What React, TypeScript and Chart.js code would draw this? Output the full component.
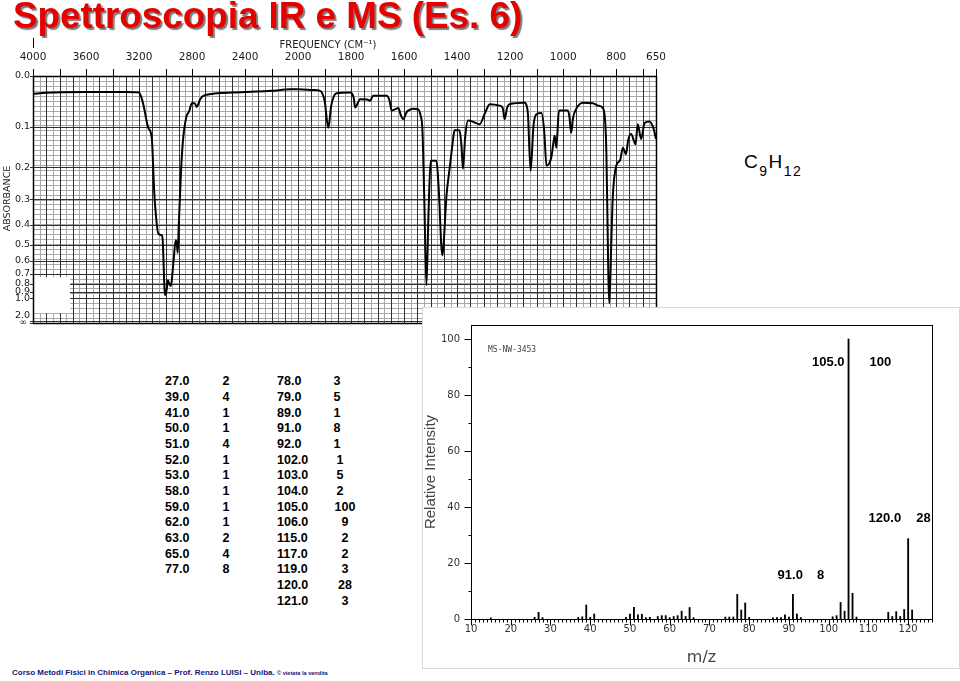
import React, { useEffect, useRef } from 'react';
import { Chart, registerables, LinearScale } from 'chart.js';

// ---------------- IR spectrum data ----------------
const IR_START = 4000;
const IR_SPLIT = 2000;
const IR_END = 650;
const IR_X_TICK_LABELS = [4000, 3600, 3200, 2800, 2400, 2000, 1800, 1600, 1400, 1200, 1000, 800, 650];
const IR_ABSORBANCE_LABELS = ['0.0', '0.1', '0.2', '0.3', '0.4', '0.5', '0.6', '0.7', '0.8', '0.9', '1.0', '2.0', '∞'];
const IR_ABSORBANCE_VALUES = [0, 0.1, 0.2, 0.3, 0.4, 0.5, 0.6, 0.7, 0.8, 0.9, 1.0, 2.0, Infinity];

const IR_WAVENUMBERS = [
  4000, 3900, 3600, 3300, 3200, 3170, 3130, 3104, 3086, 3070,
  3054, 3028, 3021, 3008, 3003, 2990, 2983, 2972, 2960, 2940,
  2923, 2915, 2908, 2900, 2883, 2870, 2845, 2820, 2802, 2780,
  2765, 2757, 2740, 2701, 2490, 2200, 2060, 2000, 1940, 1917,
  1900, 1886, 1875, 1855, 1804, 1790, 1785, 1766, 1740, 1728,
  1717, 1666, 1655, 1647, 1635, 1622, 1612, 1604, 1590, 1585,
  1565, 1547, 1538, 1531, 1524, 1516, 1508, 1500, 1478, 1470,
  1456, 1440, 1428, 1418, 1410, 1391, 1384, 1378, 1370, 1359,
  1340, 1315, 1295, 1277, 1240, 1228, 1221, 1212, 1202, 1145,
  1138, 1133, 1123, 1112, 1101, 1082, 1072, 1063, 1045, 1037,
  1032, 1026, 1016, 982, 976, 970, 963, 951, 926, 888,
  869, 850, 842, 838, 826, 818, 813, 800, 785, 775,
  763, 755, 744, 727, 719, 706, 693, 675, 660, 650,
];
const IR_TRANSMITTANCE = [
  92.7, 93.2, 93.5, 93.5, 93.3, 89, 79, 75, 53.6, 42,
  36, 35.5, 33, 14, 11.3, 14, 17.3, 16, 15, 25,
  33.5, 32, 28.4, 40, 61.7, 73, 83, 86, 89, 89,
  87.5, 88, 90.5, 92.3, 93.3, 94, 94.6, 94.6, 94.3, 94,
  90, 79, 88, 93, 93.3, 91, 87.2, 90.6, 90.5, 90,
  92, 92, 90, 86, 86.5, 87, 84, 82.5, 85.5, 86,
  86.7, 86.5, 84, 78, 50, 15.3, 45, 65.7, 65.7, 55,
  27.4, 52, 63, 72, 78, 78, 72, 62.4, 75, 82,
  81.5, 80.5, 85, 88.6, 88, 87, 82.5, 87, 88.6, 89.2,
  88, 84.5, 61.7, 80, 84.5, 85, 78, 63.7, 67, 73,
  75.8, 71, 86, 86, 83, 77, 83, 86.7, 89.2, 89,
  88, 87, 82, 72.4, 8, 35, 51, 63.7, 66, 71,
  68.4, 74, 76.5, 72.4, 80.5, 74.5, 81, 81.6, 79, 74.5,
];

// ---------------- MS spectrum data ----------------
const MS_MZ = [
  15, 26, 27, 28, 37, 38, 39, 40, 41, 49,
  50, 51, 52, 53, 54, 55, 57, 58, 59, 60,
  61, 62, 63, 64, 65, 66, 74, 75, 76, 77,
  78, 79, 80, 86, 87, 88, 89, 90, 91, 92,
  93, 101, 102, 103, 104, 105, 106, 107, 115, 116,
  117, 118, 119, 120, 121,
];
const MS_INTENSITY = [
  0.4, 0.6, 2.4, 0.5, 0.6, 0.8, 5, 0.6, 1.8, 0.6,
  1.8, 4.2, 1.5, 1.7, 0.5, 0.6, 0.9, 1.2, 1.2, 0.5,
  0.9, 1.2, 2.8, 0.9, 4.1, 0.5, 0.7, 0.7, 0.7, 8.8,
  3.2, 5.7, 0.6, 0.4, 0.5, 0.5, 1.5, 0.7, 8.8, 1.8,
  0.5, 0.8, 1.2, 5.9, 2.8, 100, 9.2, 0.7, 2.4, 0.9,
  2.6, 0.9, 3.4, 28.7, 3.2,
];
const MS_NOTE_MZ = [105, 120, 91];
const MS_NOTE_MZ_TEXT = ['105.0', '120.0', '91.0'];
const MS_NOTE_VALUE_TEXT = ['100', '28', '8'];
// label placement (layout only)
const MS_NOTE_LEVEL = [91.7, 36, 15.6];
const MS_NOTE_DX_LABEL = [-4, -7, 10];
const MS_NOTE_DX_VALUE = [21, 8, 24];

const TABLE_LEFT_MZ = ['27.0', '39.0', '41.0', '50.0', '51.0', '52.0', '53.0', '58.0', '59.0', '62.0', '63.0', '65.0', '77.0'];
const TABLE_LEFT_INT = ['2', '4', '1', '1', '4', '1', '1', '1', '1', '1', '2', '4', '8'];
const TABLE_RIGHT_MZ = ['78.0', '79.0', '89.0', '91.0', '92.0', '102.0', '103.0', '104.0', '105.0', '106.0', '115.0', '117.0', '119.0', '120.0', '121.0'];
const TABLE_RIGHT_INT = ['3', '5', '1', '8', '1', '1', '5', '2', '100', '9', '2', '2', '3', '28', '3'];

// ---------------- custom IR wavenumber scale (compressed above 2000 cm-1) ----------------
const U_MAX = (IR_START - IR_SPLIT) / 400 + (IR_SPLIT - IR_END) / 200;
class WavenumberScale extends LinearScale {
  static id = 'wavenumber';
  getPixelForValue(value: number) {
    const u = value >= IR_SPLIT ? (IR_START - value) / 400 : (IR_START - IR_SPLIT) / 400 + (IR_SPLIT - value) / 200;
    return this.left + (u / U_MAX) * this.width;
  }
  getValueForPixel(pixel: number) {
    const u = ((pixel - this.left) / this.width) * U_MAX;
    const uSplit = (IR_START - IR_SPLIT) / 400;
    return u <= uSplit ? IR_START - u * 400 : IR_SPLIT - (u - uSplit) * 200;
  }
}

Chart.register(...registerables, WavenumberScale as any);

const absToT = (a: number) => (a === Infinity ? 0 : 100 * Math.pow(10, -a));

const irPlugin = {
  id: 'irFrame',
  beforeDatasetsDraw(chart: any) {
    const { ctx, chartArea: a, scales } = chart;
    const x = scales.x;
    const y = scales.y;
    const px = (v: number) => Math.round(x.getPixelForValue(v)) + 0.5;
    const py = (v: number) => Math.round(y.getPixelForValue(v)) + 0.5;
    ctx.save();
    ctx.lineWidth = 1;
    // minor horizontal
    ctx.strokeStyle = '#a8a8a8';
    ctx.beginPath();
    for (let t = 0; t <= 100; t += 2) {
      const yy = py(t);
      ctx.moveTo(a.left, yy);
      ctx.lineTo(a.right, yy);
    }
    // minor vertical
    for (let w = IR_START; w >= IR_SPLIT; w -= 50) {
      const xx = px(w);
      ctx.moveTo(xx, a.top);
      ctx.lineTo(xx, a.bottom);
    }
    for (let w = IR_SPLIT; w >= IR_END; w -= 25) {
      const xx = px(w);
      ctx.moveTo(xx, a.top);
      ctx.lineTo(xx, a.bottom);
    }
    ctx.stroke();
    // major lines
    ctx.strokeStyle = '#303030';
    ctx.beginPath();
    for (let w = IR_START; w >= IR_SPLIT; w -= 100) {
      const xx = px(w);
      ctx.moveTo(xx, a.top);
      ctx.lineTo(xx, a.bottom);
    }
    for (let w = IR_SPLIT; w >= IR_END; w -= 50) {
      const xx = px(w);
      ctx.moveTo(xx, a.top);
      ctx.lineTo(xx, a.bottom);
    }
    IR_ABSORBANCE_VALUES.forEach((av) => {
      const yy = py(absToT(av));
      ctx.moveTo(a.left - 3, yy);
      ctx.lineTo(a.right, yy);
    });
    ctx.stroke();
    // blank patch on the chart paper
    ctx.fillStyle = '#ffffff';
    const bx0 = x.getPixelForValue(3995);
    const bx1 = x.getPixelForValue(3720);
    const by0 = y.getPixelForValue(18.5);
    const by1 = y.getPixelForValue(4);
    ctx.fillRect(bx0, by0, bx1 - bx0, by1 - by0);
    // frame
    ctx.strokeStyle = '#000';
    ctx.lineWidth = 1.5;
    ctx.strokeRect(Math.round(a.left) + 0.5, Math.round(a.top) + 0.5, Math.round(a.right - a.left), Math.round(a.bottom - a.top));
    // tick marks above the paper
    ctx.lineWidth = 1;
    ctx.beginPath();
    for (let w = IR_START; w >= IR_SPLIT; w -= 200) {
      const xx = px(w);
      ctx.moveTo(xx, a.top - 7);
      ctx.lineTo(xx, a.top);
    }
    for (let w = IR_SPLIT - 100; w >= IR_END; w -= 100) {
      const xx = px(w);
      ctx.moveTo(xx, a.top - 7);
      ctx.lineTo(xx, a.top);
    }
    const xe = px(IR_END);
    ctx.moveTo(xe, a.top - 7);
    ctx.lineTo(xe, a.top);
    // little marker above 4000
    const xs = px(IR_START);
    ctx.moveTo(xs, a.top - 38);
    ctx.lineTo(xs, a.top - 28);
    ctx.stroke();
    ctx.restore();
  },
  afterDraw(chart: any) {
    const { ctx, chartArea: a, scales } = chart;
    const y = scales.y;
    ctx.save();
    ctx.fillStyle = '#1a1a1a';
    ctx.textAlign = 'right';
    ctx.textBaseline = 'middle';
    IR_ABSORBANCE_LABELS.forEach((lab, i) => {
      const av = IR_ABSORBANCE_VALUES[i];
      let yy = y.getPixelForValue(absToT(av));
      if (lab === '2.0') yy -= 4.5;
      if (lab === '∞') {
        yy += 0;
        ctx.font = '9px "DejaVu Sans"';
        ctx.fillText(lab, a.left - 6, yy);
        return;
      }
      ctx.font = '9.5px "DejaVu Sans"';
      ctx.fillText(lab, a.left - 3, yy);
    });
    // axis titles
    ctx.textAlign = 'center';
    ctx.font = '10px "DejaVu Sans"';
    ctx.fillText('FREQUENCY (CM⁻¹)', 328, 15);
    ctx.translate(8, (a.top + a.bottom) / 2 - 1);
    ctx.rotate(-Math.PI / 2);
    ctx.font = '9.5px "DejaVu Sans"';
    ctx.fillText('ABSORBANCE', 0, 0);
    ctx.restore();
  },
};

const msPlugin = {
  id: 'msFrame',
  afterDraw(chart: any) {
    const { ctx, chartArea: a, scales } = chart;
    const x = scales.x;
    const y = scales.y;
    ctx.save();
    ctx.strokeStyle = '#000';
    ctx.lineWidth = 1;
    const L = Math.round(a.left) + 0.5;
    const B = Math.round(a.bottom) + 0.5;
    ctx.strokeRect(L, Math.round(a.top) + 0.5, Math.round(a.right - a.left), Math.round(a.bottom - a.top));
    ctx.beginPath();
    for (let m = 10; m <= 126; m++) {
      const xx = Math.round(x.getPixelForValue(m)) + 0.5;
      const len = m % 10 === 0 ? 6 : 3;
      ctx.moveTo(xx, B);
      ctx.lineTo(xx, B + len);
    }
    for (let v = 0; v <= 100; v += 10) {
      const yy = Math.round(y.getPixelForValue(v)) + 0.5;
      const len = v % 20 === 0 ? 7 : 3;
      ctx.moveTo(L - len, yy);
      ctx.lineTo(L, yy);
    }
    ctx.stroke();
    // peak annotations
    ctx.fillStyle = '#000';
    ctx.font = 'bold 13px "Liberation Sans", Arial, sans-serif';
    ctx.textBaseline = 'middle';
    MS_NOTE_MZ.forEach((mz, i) => {
      const xx = x.getPixelForValue(mz);
      const yy = y.getPixelForValue(MS_NOTE_LEVEL[i]);
      ctx.textAlign = 'right';
      ctx.fillText(MS_NOTE_MZ_TEXT[i], xx + MS_NOTE_DX_LABEL[i], yy);
      ctx.textAlign = 'left';
      ctx.fillText(MS_NOTE_VALUE_TEXT[i], xx + MS_NOTE_DX_VALUE[i], yy);
    });
    ctx.font = '8px "DejaVu Sans Mono", monospace';
    ctx.fillStyle = '#444';
    ctx.textAlign = 'left';
    ctx.fillText('MS-NW-3453', a.left + 17, a.top + 25);
    ctx.restore();
  },
};

const rowTop = (i: number) => 381.7 + i * 15.68 - 7.5;
const rightValueCenter = (i: number) => (i < 5 ? 337 : i < 8 ? 340 : 345);

export default function App() {
  const irRef = useRef<HTMLCanvasElement>(null);
  const msRef = useRef<HTMLCanvasElement>(null);

  useEffect(() => {
    const ir = new Chart(irRef.current as HTMLCanvasElement, {
      type: 'line',
      data: {
        datasets: [
          {
            data: IR_WAVENUMBERS.map((w, i) => ({ x: w, y: IR_TRANSMITTANCE[i] })),
            borderColor: '#000',
            borderWidth: 2,
            pointRadius: 0,
            cubicInterpolationMode: 'monotone',
            fill: false,
          },
        ],
      },
      options: {
        animation: false,
        responsive: false,
        layout: { padding: { left: 33, right: 14, top: 0, bottom: 7 } },
        plugins: { legend: { display: false }, tooltip: { enabled: false } },
        scales: {
          x: {
            type: 'wavenumber' as any,
            position: 'top',
            min: IR_END,
            max: IR_START,
            grid: { display: false, drawTicks: false },
            border: { display: false },
            afterBuildTicks: (scale: any) => {
              scale.ticks = IR_X_TICK_LABELS.map((v) => ({ value: v }));
            },
            afterFit: (scale: any) => {
              scale.height = 46;
              scale.paddingLeft = 0;
              scale.paddingRight = 0;
            },
            ticks: {
              autoSkip: false,
              maxRotation: 0,
              padding: 12,
              color: '#1a1a1a',
              font: { family: 'DejaVu Sans', size: 10.5 },
              callback: (v: any) => String(v),
            },
          } as any,
          y: { type: 'linear', min: 0, max: 100, display: false },
        },
      },
      plugins: [irPlugin],
    } as any);

    const ms = new Chart(msRef.current as HTMLCanvasElement, {
      type: 'bar',
      data: {
        datasets: [
          {
            data: MS_MZ.map((m, i) => ({ x: m, y: MS_INTENSITY[i] })),
            backgroundColor: '#000',
            borderWidth: 0,
            barThickness: 1.2,
          },
        ],
      },
      options: {
        animation: false,
        responsive: false,
        layout: { padding: { left: 0, right: 27, top: 7, bottom: 0 } },
        plugins: { legend: { display: false }, tooltip: { enabled: false } },
        scales: {
          x: {
            type: 'linear',
            min: 10,
            max: 126,
            offset: false,
            grid: { display: false, drawTicks: false },
            border: { display: false },
            ticks: {
              stepSize: 10,
              includeBounds: false,
              autoSkip: false,
              maxRotation: 0,
              padding: 4,
              color: '#333',
              font: { family: 'DejaVu Sans', size: 10 },
              callback: (v: any) => String(v),
            },
            title: {
              display: true,
              text: 'm/z',
              color: '#444',
              font: { family: 'DejaVu Sans', size: 16 },
              padding: { top: 0, bottom: 1 },
            },
            afterFit: (scale: any) => {
              scale.height = 49;
              scale.paddingLeft = 0;
              scale.paddingRight = 0;
            },
          },
          y: {
            type: 'linear',
            min: 0,
            max: 105,
            grid: { display: false, drawTicks: false },
            border: { display: false },
            ticks: {
              stepSize: 20,
              includeBounds: false,
              padding: 11,
              color: '#333',
              font: { family: 'DejaVu Sans', size: 10 },
              callback: (v: any) => String(v),
            },
            title: {
              display: true,
              text: 'Relative Intensity',
              color: '#444',
              font: { family: 'Liberation Sans', size: 15, lineHeight: 1 },
              padding: 0,
            },
            afterFit: (scale: any) => {
              scale.width = 48;
            },
          },
        },
      },
      plugins: [msPlugin],
    } as any);

    return () => {
      ir.destroy();
      ms.destroy();
    };
  }, []);

  const tableFont: React.CSSProperties = {
    position: 'absolute',
    fontFamily: '"Liberation Sans", Arial, sans-serif',
    fontWeight: 'bold',
    fontSize: 12.5,
    lineHeight: '15px',
    color: '#000',
    whiteSpace: 'nowrap',
  };

  return (
    <div
      style={{
        position: 'absolute',
        left: 0,
        top: 0,
        width: 960,
        height: 681,
        background: '#fff',
        overflow: 'hidden',
        fontFamily: '"Liberation Sans", Arial, sans-serif',
      }}
    >
      <canvas
        ref={irRef}
        width={670}
        height={300}
        style={{ position: 'absolute', left: 0, top: 30, width: 670, height: 300 }}
      />
      <div
        style={{
          position: 'absolute',
          left: 13,
          top: -2,
          fontSize: 36.8,
          lineHeight: '36px',
          fontWeight: 'bold',
          color: '#e60000',
          textShadow: '2px 2px 1px rgba(80,80,80,0.75)',
          whiteSpace: 'nowrap',
        }}
      >
        Spettroscopia IR e MS (Es. 6)
      </div>
      <div
        style={{
          position: 'absolute',
          left: 744,
          top: 152,
          fontSize: 19,
          lineHeight: '19px',
          color: '#000',
          letterSpacing: 1.5,
          whiteSpace: 'nowrap',
        }}
      >
        C<span style={{ fontSize: 14, position: 'relative', top: 8 }}>9</span>H
        <span style={{ fontSize: 14, position: 'relative', top: 8 }}>12</span>
      </div>
      {TABLE_LEFT_MZ.map((t, i) => (
        <div key={'lm' + i} style={{ ...tableFont, left: 165, top: rowTop(i) }}>
          {t}
        </div>
      ))}
      {TABLE_LEFT_INT.map((t, i) => (
        <div key={'li' + i} style={{ ...tableFont, left: 206, width: 40, textAlign: 'center', top: rowTop(i) }}>
          {t}
        </div>
      ))}
      {TABLE_RIGHT_MZ.map((t, i) => (
        <div key={'rm' + i} style={{ ...tableFont, left: 277, top: rowTop(i) }}>
          {t}
        </div>
      ))}
      {TABLE_RIGHT_INT.map((t, i) => (
        <div
          key={'ri' + i}
          style={{ ...tableFont, left: rightValueCenter(i) - 20, width: 40, textAlign: 'center', top: rowTop(i) }}
        >
          {t}
        </div>
      ))}
      <div
        style={{
          position: 'absolute',
          left: 422,
          top: 307,
          width: 538,
          height: 362,
          boxSizing: 'border-box',
          border: '1px solid #d8d8d8',
          background: '#fff',
        }}
      />
      <canvas
        ref={msRef}
        width={536}
        height={360}
        style={{ position: 'absolute', left: 423, top: 308, width: 536, height: 360 }}
      />
      <div
        style={{
          position: 'absolute',
          left: 12,
          top: 668,
          fontSize: 8,
          lineHeight: '10px',
          fontWeight: 'bold',
          color: '#14147a',
          whiteSpace: 'nowrap',
        }}
      >
        Corso Metodi Fisici in Chimica Organica – Prof. Renzo LUISI – Uniba.{' '}
        <span style={{ fontSize: 5.6 }}>© vietata la vendita</span>
      </div>
    </div>
  );
}
